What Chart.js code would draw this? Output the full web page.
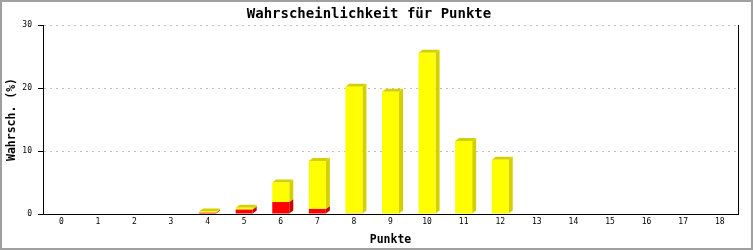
<!DOCTYPE html>
<html>
<head>
<meta charset="utf-8">
<script src="https://cdn.jsdelivr.net/npm/chart.js@4"></script>
<style>
  html, body { margin: 0; padding: 0; background: #fff; }
  canvas { display: block; }
</style>
</head>
<body>
<canvas id="chart" width="753" height="250"></canvas>
<script>
// Punkte 0..18, stacked: red part at bottom, yellow on top
const punkte = ['0','1','2','3','4','5','6','7','8','9','10','11','12','13','14','15','16','17','18'];
const rotWerte = [0, 0, 0, 0, 0.2, 0.7, 1.9, 0.8, 0.1, 0, 0, 0, 0, 0, 0, 0, 0, 0, 0];
const gelbWerte = [0, 0, 0, 0, 0.2, 0.3, 3.1, 7.6, 20.1, 19.4, 25.6, 11.6, 8.6, 0, 0, 0, 0, 0, 0];
const yTicks = [0, 10, 20, 30];

const monoFont = "'DejaVu Sans Mono', 'Liberation Mono', monospace";

// darker side colours for the 3d look
const sideColors = ['#c80000', '#d4d000'];

const depthPlugin = {
    id: 'depth',
    beforeDatasetsDraw(chart) {
        const ctx = chart.ctx;
        const dx = 4, dy = 3;
        const metas = chart.data.datasets.map((ds, i) => chart.getDatasetMeta(i));
        punkte.forEach((p, idx) => {
            // which dataset is the top one for this bar
            let topDs = -1;
            chart.data.datasets.forEach((ds, i) => { if (ds.data[idx] > 0) topDs = i; });
            metas.forEach((meta, i) => {
                const v = chart.data.datasets[i].data[idx];
                if (!v) return;
                const bar = meta.data[idx].getProps(['x', 'y', 'base', 'width'], true);
                const left = bar.x - bar.width / 2;
                const right = bar.x + bar.width / 2;
                ctx.save();
                ctx.fillStyle = sideColors[i];
                ctx.beginPath();
                ctx.moveTo(right, bar.y);
                ctx.lineTo(right + dx, bar.y - dy);
                ctx.lineTo(right + dx, bar.base - dy);
                ctx.lineTo(right, bar.base);
                ctx.closePath();
                ctx.fill();
                if (i === topDs) {
                    ctx.beginPath();
                    ctx.moveTo(left, bar.y);
                    ctx.lineTo(left + dx, bar.y - dy);
                    ctx.lineTo(right + dx, bar.y - dy);
                    ctx.lineTo(right, bar.y);
                    ctx.closePath();
                    ctx.fill();
                }
                ctx.restore();
            });
        });
    }
};

const framePlugin = {
    id: 'frame',
    afterDraw(chart) {
        const ctx = chart.ctx;
        const a = chart.chartArea;
        ctx.save();
        ctx.strokeStyle = '#000';
        ctx.lineWidth = 1;
        ctx.beginPath();
        ctx.moveTo(Math.round(a.right) + 0.5, a.top);
        ctx.lineTo(Math.round(a.right) + 0.5, a.bottom);
        ctx.stroke();
        ctx.strokeStyle = '#a0a0a0';
        ctx.lineWidth = 2;
        ctx.strokeRect(1, 1, 751, 248);
        ctx.restore();
    }
};

new Chart(document.getElementById('chart'), {
    type: 'bar',
    data: {
        labels: punkte,
        datasets: [
            { label: 'rot', data: rotWerte, backgroundColor: '#ff0000', borderWidth: 0 },
            { label: 'gelb', data: gelbWerte, backgroundColor: '#ffff00', borderWidth: 0 }
        ]
    },
    options: {
        responsive: false,
        animation: false,
        devicePixelRatio: 1,
        layout: { padding: { left: 0, right: 15, top: 0, bottom: 0 } },
        categoryPercentage: 1,
        barPercentage: 0.465,
        plugins: {
            legend: { display: false },
            tooltip: { enabled: false },
            title: {
                display: true,
                text: 'Wahrscheinlichkeit für Punkte',
                color: '#000',
                font: { family: monoFont, size: 14, weight: 'bold' },
                padding: { top: 6, bottom: 2.2 }
            }
        },
        scales: {
            x: {
                stacked: true,
                grid: { display: false, drawTicks: false },
                border: { display: true, color: '#000', width: 1, z: 1 },
                ticks: { color: '#000', font: { family: monoFont, size: 8 }, padding: 3, maxRotation: 0, autoSkip: false },
                title: {
                    display: true,
                    text: 'Punkte',
                    color: '#000',
                    font: { family: monoFont, size: 11.5, weight: 'bold' },
                    padding: { top: 0, bottom: 3.4 }
                },
                afterFit(scale) { scale.height = 36; }
            },
            y: {
                stacked: true,
                min: 0,
                max: 30,
                afterBuildTicks(scale) { scale.ticks = yTicks.map(v => ({ value: v })); },
                grid: {
                    color: c => (c.tick && c.tick.value === 0) ? 'rgba(0,0,0,0)' : '#c0c0c0',
                    tickColor: '#000',
                    tickLength: 5,
                    drawTicks: true
                },
                border: { display: true, color: '#000', width: 1, dash: [2, 4], z: 1 },
                ticks: { color: '#000', font: { family: monoFont, size: 8 }, padding: 6 },
                title: {
                    display: true,
                    text: 'Wahrsch. (%)',
                    color: '#000',
                    font: { family: monoFont, size: 11.5, weight: 'bold' },
                    padding: { top: 5.5, bottom: 0 }
                },
                afterFit(scale) { scale.width = 43; }
            }
        }
    },
    plugins: [depthPlugin, framePlugin]
});
</script>
</body>
</html>
